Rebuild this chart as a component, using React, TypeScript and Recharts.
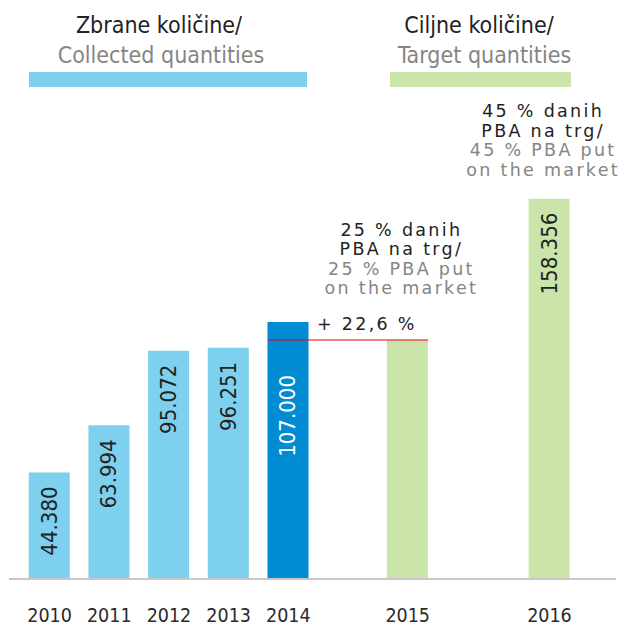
import React from 'react';
import { BarChart, Bar, XAxis, YAxis, Cell, LabelList, ReferenceLine } from 'recharts';

// ---- data ----
const years = ['2010', '2011', '2012', '2013', '2014', '2015', '2016'];
const slots = [0, 1, 2, 3, 4, 6, 8.375];
const values = [44.38, 63.994, 95.072, 96.251, 107.0, 99.5, 158.356];
const valueLabels = ['44.380', '63.994', '95.072', '96.251', '107.000', '', '158.356'];
const kinds = ['collected', 'collected', 'collected', 'collected', 'current', 'target', 'target'];
const notesHr: (string[] | null)[] = [null, null, null, null, null, ['25 % danih', 'PBA na trg/'], ['45 % danih', 'PBA na trg/']];
const notesEn: (string[] | null)[] = [null, null, null, null, null, ['25 % PBA put', 'on the market'], ['45 % PBA put', 'on the market']];
const changeLabels = ['', '', '', '', '', '+ 22,6 %', ''];
const titleHr = ['Zbrane količine/', 'Ciljne količine/'];
const titleEn = ['Collected quantities', 'Target quantities'];

// ---- styles ----
const W = 628;
const H = 626;
const FONT = "'DejaVu Sans Condensed', 'DejaVu Sans', sans-serif";
const NOTE_FONT = "'DejaVu Sans', sans-serif";
const DARK = '#222222';
const GRAY = '#858585';
const COLORS: Record<string, string> = { collected: '#7dd0ee', current: '#008bd2', target: '#cae4a9' };
const X_DOMAIN: [number, number] = [-0.68, 9.49];
const M = { top: 98.6, right: 12, bottom: 7, left: 9 };
const BAR = 41;
const slotPx = (W - M.left - M.right) / (X_DOMAIN[1] - X_DOMAIN[0]);
const halfBar = BAR / 2 / slotPx;

const data = years.map((y, i) => ({ year: y, slot: slots[i], value: values[i], kind: kinds[i] }));

const box = (p: any) => {
  const vb = p.viewBox || p;
  return { x: Number(vb.x), y: Number(vb.y), width: Number(vb.width), height: Number(vb.height) };
};

const ValueLabel = (p: any) => {
  const i = p.index;
  const txt = valueLabels[i];
  if (!txt) return null;
  const b = box(p);
  const cx = b.x + b.width / 2;
  const gap = kinds[i] === 'current' ? 53 : 14;
  const ay = b.y + gap;
  return (
    <text
      x={cx}
      y={ay}
      transform={`rotate(-90 ${cx} ${ay})`}
      textAnchor="end"
      dominantBaseline="central"
      fill={kinds[i] === 'current' ? '#ffffff' : DARK}
      fontSize={22}
      fontWeight={400}
      fontFamily={FONT}
      style={{ fontStretch: 'condensed' }}
    >
      {txt}
    </text>
  );
};

const NoteLabel = (p: any) => {
  const i = p.index;
  const hr = notesHr[i];
  const en = notesEn[i];
  if (!hr || !en) return null;
  const b = box(p);
  const cx = b.x + b.width / 2 - 6;
  const change = changeLabels[i];
  const lastBase = b.y - (change ? 46 : 23);
  const lh = 19.5;
  const lines = [...hr.map((t) => ({ t, c: DARK })), ...en.map((t) => ({ t, c: GRAY }))];
  const n = lines.length;
  return (
    <g fontFamily={NOTE_FONT} fontSize={17.5} fontWeight={400} letterSpacing={2.3}>
      {lines.map((l, k) => (
        <text key={k} x={cx} y={lastBase - (n - 1 - k) * lh} textAnchor="middle" fill={l.c}>
          {l.t}
        </text>
      ))}
      {change ? (
        <text x={b.x + b.width / 2 - 40.5} y={b.y - 10} textAnchor="middle" fill={DARK}>
          {change}
        </text>
      ) : null}
    </g>
  );
};

const YearTick = (p: any) => {
  const v = p.payload.value;
  const i = slots.indexOf(v);
  return (
    <text x={p.x} y={622} textAnchor="middle" fill="#2a2a2a" fontSize={19.5} fontWeight={400} fontFamily={FONT} style={{ fontStretch: 'condensed' }}>
      {years[i]}
    </text>
  );
};

const Titles = () => (
  <svg width={W} height={H} style={{ position: 'absolute', left: 0, top: 0, pointerEvents: 'none' }}>
    <g fontFamily={FONT} fontSize={23} style={{ fontStretch: 'condensed' }}>
      <text x={159} y={33} textAnchor="middle" fill={DARK}>{titleHr[0]}</text>
      <text x={161} y={63} textAnchor="middle" fill={GRAY}>{titleEn[0]}</text>
      <text x={479} y={33} textAnchor="middle" fill={DARK}>{titleHr[1]}</text>
      <text x={484.5} y={63} textAnchor="middle" fill={GRAY}>{titleEn[1]}</text>
    </g>
    <rect x={29} y={72} width={278} height={15} fill={COLORS.collected} />
    <rect x={390} y={72} width={181} height={15} fill={COLORS.target} />
  </svg>
);

export default function App() {
  const lineY = values[5];
  return (
    <div style={{ position: 'absolute', left: 0, top: 0, width: W, height: H, background: '#fff' }}>
      <BarChart width={W} height={H} data={data} margin={M}>
        <XAxis
          dataKey="slot"
          type="number"
          domain={X_DOMAIN}
          allowDataOverflow
          ticks={slots}
          interval={0}
          tick={<YearTick />}
          tickLine={false}
          axisLine={{ stroke: '#c8c8c8', strokeWidth: 2 }}
          height={40}
        />
        <YAxis hide type="number" domain={[0, 200]} />
        <Bar dataKey="value" barSize={BAR} isAnimationActive={false}>
          {data.map((d, i) => (
            <Cell key={i} fill={COLORS[d.kind]} />
          ))}
          <LabelList dataKey="value" content={<ValueLabel />} />
          <LabelList dataKey="value" content={<NoteLabel />} />
        </Bar>
        <ReferenceLine
          segment={[
            { x: slots[4] - halfBar, y: lineY },
            { x: slots[5] + halfBar, y: lineY },
          ]}
          stroke="#e30613"
          strokeOpacity={0.5}
          strokeWidth={2}
          ifOverflow="visible"
        />
      </BarChart>
      <Titles />
    </div>
  );
}
